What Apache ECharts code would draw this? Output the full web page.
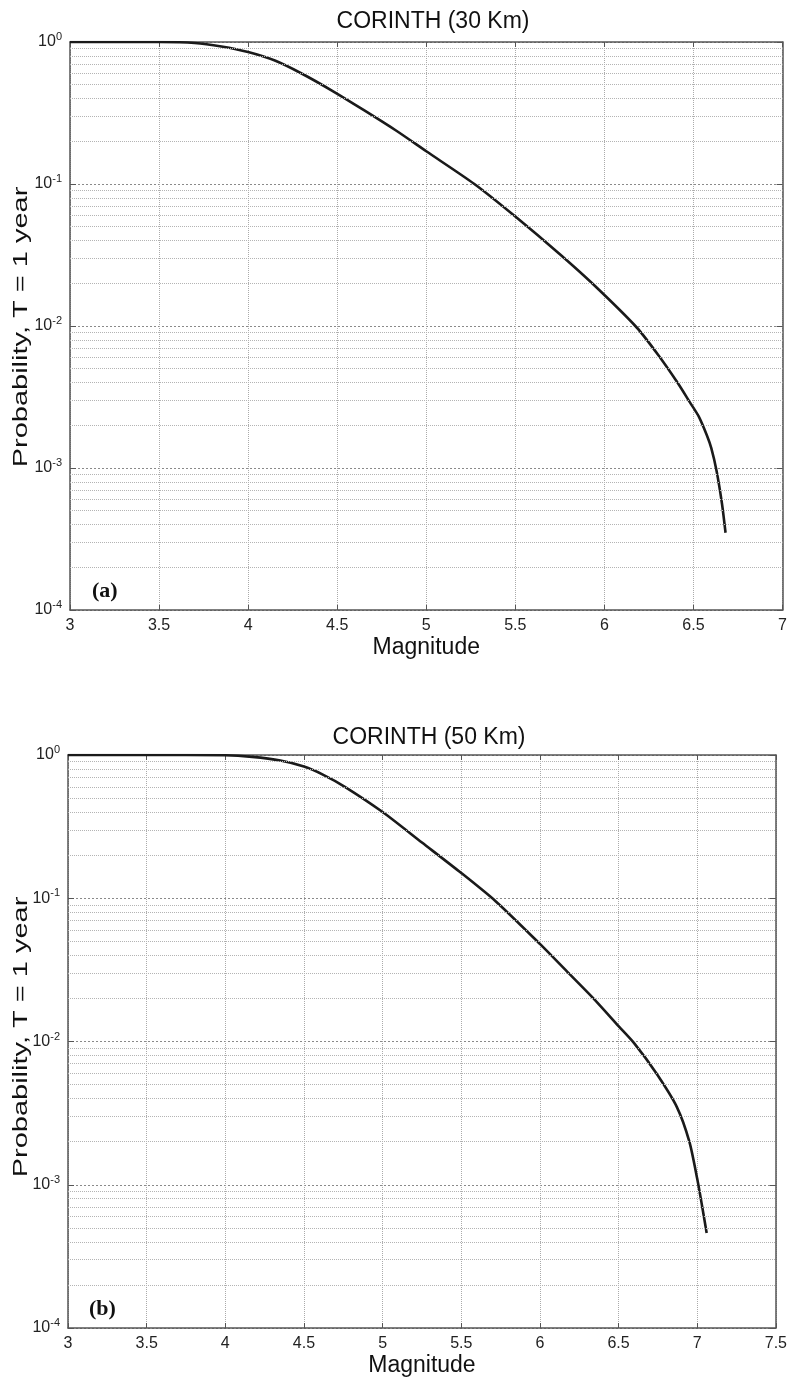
<!DOCTYPE html>
<html>
<head>
<meta charset="utf-8">
<script src="https://cdn.jsdelivr.net/npm/echarts@6/dist/echarts.min.js"></script>
<style>
  html, body { margin: 0; padding: 0; background: #fff; }
  #chart { width: 790px; height: 1381px; }
</style>
</head>
<body>
<div id="chart"></div>
<script>
// (a) CORINTH (30 Km)
var magA  = [3.0, 3.5, 3.7, 3.85, 4.0, 4.15, 4.3, 4.47, 4.65, 4.83, 5.0, 5.27, 5.5, 5.75, 5.94, 6.18, 6.3, 6.41, 6.48, 6.53, 6.575, 6.6, 6.63, 6.66, 6.68];
var probA = [1.0, 1.0, 0.985, 0.93, 0.85, 0.74, 0.6, 0.455, 0.331, 0.238, 0.17, 0.1, 0.059, 0.032, 0.0195, 0.0098, 0.0063, 0.004, 0.0029, 0.0023, 0.0017, 0.00138, 0.00095, 0.00056, 0.00035];

// (b) CORINTH (50 Km)
var magB  = [3.0, 3.5, 4.0, 4.17, 4.35, 4.5, 4.62, 4.76, 5.0, 5.25, 5.5, 5.72, 6.0, 6.17, 6.34, 6.5, 6.6, 6.74, 6.87, 6.95, 7.0, 7.03, 7.06];
var probB = [1.0, 1.0, 0.995, 0.97, 0.915, 0.83, 0.73, 0.6, 0.4, 0.245, 0.15, 0.095, 0.048, 0.031, 0.020, 0.0128, 0.0097, 0.006, 0.0035, 0.002, 0.0011, 0.00072, 0.00046];

var titles = ['CORINTH (30 Km)', 'CORINTH (50 Km)'];
var panelTags = ['(a)', '(b)'];
var yName = 'Probability, T = 1 year';
var xMin = 3;
var xMax = [7, 7.5];

// minor log grid lines 2..9 x 10^k
var minorProb = [];
for (var k = -4; k < 0; k++) {
  for (var m = 2; m <= 9; m++) minorProb.push(m * Math.pow(10, k));
}

var font = 'Liberation Sans, Arial, sans-serif';
var axisColor = '#555';

function logLabel(v) {
  var e = Math.round(Math.log10(v));
  return '{b|10}{s|' + e + '}';
}

var grids = [
  { left: 70, top: 42, width: 717, height: 568 },
  { left: 68, top: 755, width: 712, height: 573 }
];

var xAxes = [], yAxes = [], series = [];
[0, 1].forEach(function (g) {
  xAxes.push({
    gridIndex: g, type: 'value', min: xMin, max: xMax[g], interval: 0.5, position: 'bottom',
    name: 'Magnitude', nameLocation: 'middle', nameGap: 26,
    nameTextStyle: { fontSize: 23, color: '#111', fontFamily: font },
    axisLine: { show: true, onZero: false, lineStyle: { color: axisColor, width: 1.5 } },
    axisTick: { show: true, inside: true, length: 5, lineStyle: { color: axisColor } },
    axisLabel: { fontSize: 16, color: '#222', margin: 8, fontFamily: font },
    splitLine: { show: true, lineStyle: { type: 'dotted', color: '#aaa', width: 1 } }
  });
  xAxes.push({
    gridIndex: g, type: 'value', min: xMin, max: xMax[g], interval: 0.5, position: 'top',
    axisLine: { show: true, onZero: false, lineStyle: { color: axisColor, width: 1.5 } },
    axisTick: { show: true, inside: true, length: 5, lineStyle: { color: axisColor } },
    axisLabel: { show: false }, splitLine: { show: false }
  });
  yAxes.push({
    gridIndex: g, type: 'log', logBase: 10, min: 1e-4, max: 1, splitNumber: 4, position: 'left',
    axisLine: { show: true, onZero: false, lineStyle: { color: axisColor, width: 1.5 } },
    axisTick: { show: true, inside: true, length: 6, lineStyle: { color: axisColor } },
    axisLabel: {
      margin: 8, formatter: logLabel,
      rich: {
        b: { fontSize: 16, color: '#222', fontFamily: font },
        s: { fontSize: 11, color: '#222', fontFamily: font, padding: [0, 0, 10, 0] }
      }
    },
    splitLine: { show: true, lineStyle: { type: [2, 2], color: '#8a8a8a', width: 1 } }
  });
  yAxes.push({
    gridIndex: g, type: 'log', logBase: 10, min: 1e-4, max: 1, splitNumber: 4, position: 'right',
    axisLine: { show: true, onZero: false, lineStyle: { color: axisColor, width: 1.5 } },
    axisTick: { show: true, inside: true, length: 6, lineStyle: { color: axisColor } },
    axisLabel: { show: false }, splitLine: { show: false }
  });
});

var mags = [magA, magB], probs = [probA, probB];
[0, 1].forEach(function (g) {
  series.push({
    type: 'line', xAxisIndex: g * 2, yAxisIndex: g * 2,
    data: mags[g].map(function (m, i) { return [m, probs[g][i]]; }),
    showSymbol: false, smooth: 0.25,
    lineStyle: { color: '#1a1a1a', width: 2.6, join: 'round' },
    z: 3,
    markLine: {
      silent: true, symbol: ['none', 'none'], label: { show: false },
      lineStyle: { type: 'dotted', color: '#b4b4b4', width: 1 },
      emphasis: { disabled: true },
      data: minorProb.map(function (v) {
        return [{ coord: [xMin, v] }, { coord: [xMax[g], v] }];
      })
    }
  });
});

var chart = echarts.init(document.getElementById('chart'));
chart.setOption({
  animation: false,
  backgroundColor: '#fff',
  title: [
    { text: titles[0], left: 428, top: 5, textAlign: 'center',
      textStyle: { fontSize: 23, fontWeight: 'normal', color: '#111', fontFamily: font } },
    { text: titles[1], left: 424, top: 721, textAlign: 'center',
      textStyle: { fontSize: 23, fontWeight: 'normal', color: '#111', fontFamily: font } }
  ],
  grid: grids,
  xAxis: xAxes,
  yAxis: yAxes,
  series: series,
  graphic: [
    { type: 'text', x: 21, y: 327, rotation: Math.PI / 2, scaleX: 1.45,
      style: { text: yName, fontSize: 20, fontFamily: font, fill: '#111', align: 'center', verticalAlign: 'middle' } },
    { type: 'text', x: 21, y: 1037, rotation: Math.PI / 2, scaleX: 1.45,
      style: { text: yName, fontSize: 20, fontFamily: font, fill: '#111', align: 'center', verticalAlign: 'middle' } },
    { type: 'text', left: 92, top: 580, style: { text: panelTags[0], fontSize: 22, fontWeight: 'bold', fontFamily: 'Liberation Serif, Times New Roman, serif', fill: '#111' } },
    { type: 'text', left: 89, top: 1298, style: { text: panelTags[1], fontSize: 22, fontWeight: 'bold', fontFamily: 'Liberation Serif, Times New Roman, serif', fill: '#111' } }
  ]
});
</script>
</body>
</html>
